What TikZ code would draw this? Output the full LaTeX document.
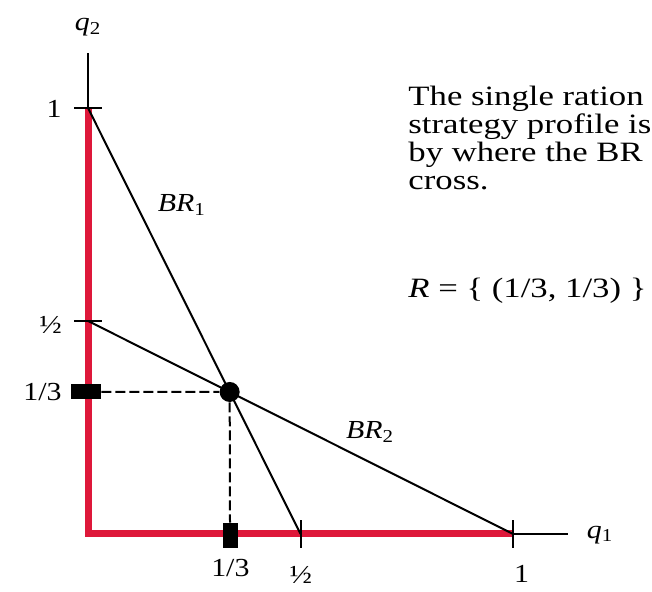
\documentclass[tikz,border=0pt]{standalone}
\usepackage{fontspec}
\setmainfont[FakeStretch=1.15]{Liberation Serif}
\newfontfamily\notefont[FakeStretch=1.24]{Liberation Serif}
\usepackage{tikz}
\usetikzlibrary{positioning}
\definecolor{brred}{RGB}{222,24,58}

\begin{document}
\begin{tikzpicture}[
  x=212.5pt, y=213pt,
  every node/.style={font=\fontsize{13}{14}\selectfont, inner sep=0pt},
  axisline/.style={black, line width=1pt},
  support/.style={brred, line width=3.5pt},
  brline/.style={black, line width=1pt},
  guide/.style={black, line width=1pt, dash pattern=on 5pt off 2pt},
  tickmark/.style={black, line width=1pt},
  hbox/.style={rectangle, fill=black, minimum width=15pt, minimum height=7.5pt},
  vbox/.style={rectangle, fill=black, minimum width=7.5pt, minimum height=12.5pt},
  dot/.style={circle, fill=black, minimum size=10pt},
  note/.style={font=\notefont\fontsize{14}{14}\selectfont, anchor=north west, align=left}
]

% Frame
\coordinate (sw) at (-0.2071,-0.1362);
\coordinate (ne) at (1.3271,1.2535);
\useasboundingbox (sw) rectangle (ne);

% Points
\coordinate (o) at (0,0);
\coordinate (y1) at (0,1);
\coordinate (yhalf) at (0,0.5);
\coordinate (x1) at (1,0);
\coordinate (xhalf) at (0.5,0);
\coordinate (ytop) at (0,1.13);
\coordinate (xend) at (1.13,0);

% Axes
\draw[axisline] (o) -- (ytop);
\draw[axisline] (o) -- (xend);
\draw[support] (y1) -- (o) -- (x1);

% Ticks
\draw[tickmark] ([xshift=-7pt]y1) -- ([xshift=7pt]y1);
\draw[tickmark] ([xshift=-7pt]yhalf) -- ([xshift=7pt]yhalf);
\draw[tickmark] ([yshift=-7pt]xhalf) -- ([yshift=7pt]xhalf);
\draw[tickmark] ([yshift=-7pt]x1) -- ([yshift=7pt]x1);

% Best responses
\draw[brline] (y1) -- (xhalf);
\draw[brline] (yhalf) -- (x1);

% Rationalizable profile
\node[dot] (eq) at (1/3,1/3) {};
\node[hbox] (m2) at (-0.0047,0.3333) {};
\node[vbox] (m1) at (0.3341,-0.0035) {};
\draw[guide] (m2.east) -- (eq);
\draw[guide] (eq) -- (m1.north);

% Axis labels
\node (q2) at (0,1.19) {\itshape q\textsubscript{\upshape 2}};
\node (q1) at (1.205,-0.002) {\itshape q\textsubscript{\upshape 1}};
\node[anchor=east] (l1) at (-0.061,0.998) {1};
\node[anchor=east] (lhalf) at (-0.061,0.49) {½};
\node[anchor=east] (lthird) at (-0.061,1/3) {1/3};
\node[anchor=north] (bthird) at (0.335,-0.059) {1/3};
\node[anchor=north] (bhalf) at (0.501,-0.075) {½};
\node[anchor=north] (b1) at (1.02,-0.073) {1};

% Curve labels
\node (br1) at (0.221,0.772) {\itshape BR\textsubscript{\upshape 1}};
\node (br2) at (0.664,0.239) {\itshape BR\textsubscript{\upshape 2}};

% Note
\node[note] (txt) at (0.753,1.052) {The single ration\\
  strategy profile is\\
  by where the BR\\
  cross.};
\node[note, anchor=base west] (rset) at (0.753,0.554) {{\itshape R} = \{ (1/3, 1/3) \}};

\end{tikzpicture}
\end{document}
